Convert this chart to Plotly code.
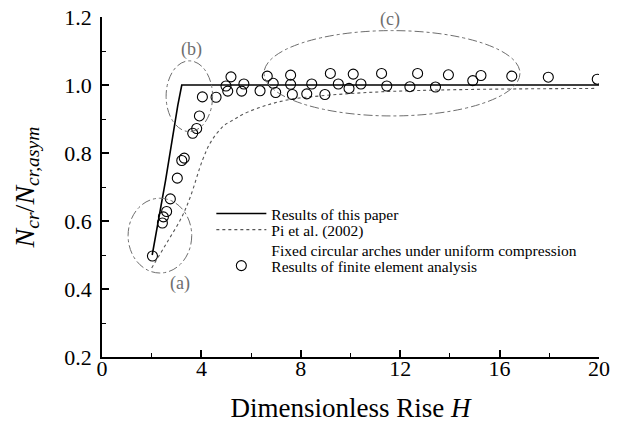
import plotly.graph_objects as go

# ---- data ----
paper_H = [2.02, 2.56, 3.05, 3.21, 20.0]
paper_N = [0.50, 0.72, 0.94, 1.00, 1.00]

pi_H = [2.0, 2.6, 3.2, 3.55, 4.05, 4.4, 4.9, 5.3, 5.7, 6.6, 7.6, 8.8, 10.7, 12.8, 16.0, 19.9]
pi_N = [0.462, 0.535, 0.61, 0.67, 0.78, 0.835, 0.88, 0.898, 0.915, 0.94, 0.958, 0.968, 0.978, 0.984, 0.988, 0.99]

fe_H = [2.03, 2.43, 2.47, 2.60, 2.75, 3.03, 3.21, 3.31, 3.65, 3.81, 3.92, 4.04, 4.59,
        4.99, 5.06, 5.19, 5.62, 5.71, 6.36, 6.65, 6.89, 6.99, 7.59, 7.59, 7.66, 8.24, 8.44,
        8.97, 9.19, 9.51, 9.94, 10.11, 10.42, 11.25, 11.46, 12.39, 12.70, 13.42, 13.94,
        14.92, 15.25, 16.49, 17.96, 19.93]
fe_N = [0.497, 0.594, 0.612, 0.628, 0.665, 0.726, 0.778, 0.785, 0.858, 0.872, 0.909, 0.965, 0.964,
        0.997, 0.982, 1.024, 0.982, 1.003, 0.983, 1.026, 1.005, 0.978, 1.029, 1.002, 0.972, 0.974, 1.003,
        0.972, 1.034, 1.003, 0.990, 1.032, 1.003, 1.034, 0.997, 0.995, 1.034, 0.994, 1.030,
        1.013, 1.028, 1.026, 1.023, 1.017]

x_ticks = [0, 4, 8, 12, 16, 20]
y_ticks = [0.2, 0.4, 0.6, 0.8, 1.0, 1.2]

FONT = "Liberation Serif"
GRAY = "#6e6e6e"
LEG_FONT = dict(family=FONT, size=15.5, color="black")

fig = go.Figure()
fig.add_trace(go.Scatter(x=paper_H, y=paper_N, mode="lines",
                         line=dict(color="black", width=1.6),
                         name="Results of this paper", legend="legend"))
fig.add_trace(go.Scatter(x=pi_H, y=pi_N, mode="lines", line_shape="spline",
                         line=dict(color="#555555", width=1.1, dash="dot"),
                         name="Pi et al. (2002)<br>Fixed circular arches under uniform compression",
                         legend="legend2"))
fig.add_trace(go.Scatter(x=fe_H, y=fe_N, mode="markers",
                         marker=dict(symbol="circle-open", size=10, color="black",
                                     line=dict(width=1.1)),
                         name="Results of finite element analysis", legend="legend3"))

# ellipses marking regions (a), (b), (c)
ellipses = [
    dict(x0=1.05, x1=3.61, y0=0.447, y1=0.667),
    dict(x0=2.58, x1=4.45, y0=0.863, y1=1.071),
    dict(x0=6.52, x1=16.82, y0=0.909, y1=1.160),
]
for e in ellipses:
    fig.add_shape(type="circle", xref="x", yref="y", **e,
                  line=dict(color=GRAY, width=1, dash="dashdot"))

labels = [("(a)", 3.14, 0.417), ("(b)", 3.61, 1.105), ("(c)", 11.59, 1.192)]
for t, x, y in labels:
    fig.add_annotation(x=x, y=y, text=t, showarrow=False,
                       font=dict(family=FONT, size=18, color=GRAY))

axis_common = dict(showline=True, linecolor="black", linewidth=1.5,
                   ticks="inside", ticklen=7, tickwidth=1.5, tickcolor="black",
                   showgrid=False, zeroline=False, mirror=False,
                   tickfont=dict(family=FONT, size=22, color="black"))

fig.update_xaxes(range=[0, 20], tickvals=x_ticks,
                 minor=dict(ticks="inside", ticklen=4, tickwidth=1.2, dtick=2, tick0=0,
                            tickcolor="black"),
                 title=dict(text="Dimensionless Rise <i>H</i>",
                            font=dict(family=FONT, size=27, color="black"), standoff=18),
                 ticklabelstandoff=-9,
                 **axis_common)
fig.update_yaxes(range=[0.2, 1.2], tickvals=y_ticks, tickformat=".1f",
                 minor=dict(ticks="inside", ticklen=4, tickwidth=1.2, dtick=0.1, tick0=0.2,
                            tickcolor="black"),
                 title=dict(text="<i>N</i><sub><i>cr</i></sub>/<i>N</i><sub><i>cr,asym</i></sub>",
                            font=dict(family=FONT, size=28, color="black"), standoff=22),
                 ticklabelstandoff=4,
                 **axis_common)

leg_common = dict(x=0.22, xanchor="left", yanchor="top", bgcolor="rgba(0,0,0,0)",
                  borderwidth=0, font=LEG_FONT, valign="top", itemwidth=50)

fig.update_layout(
    width=641, height=423,
    margin=dict(l=102, r=42, t=17, b=66, autoexpand=False),
    plot_bgcolor="white", paper_bgcolor="white",
    font=dict(family=FONT, color="black"),
    legend=dict(y=0.4706, **leg_common),
    legend2=dict(y=0.4235, **leg_common),
    legend3=dict(y=0.3176, **leg_common),
    showlegend=True,
)

fig.write_html("out.html")
